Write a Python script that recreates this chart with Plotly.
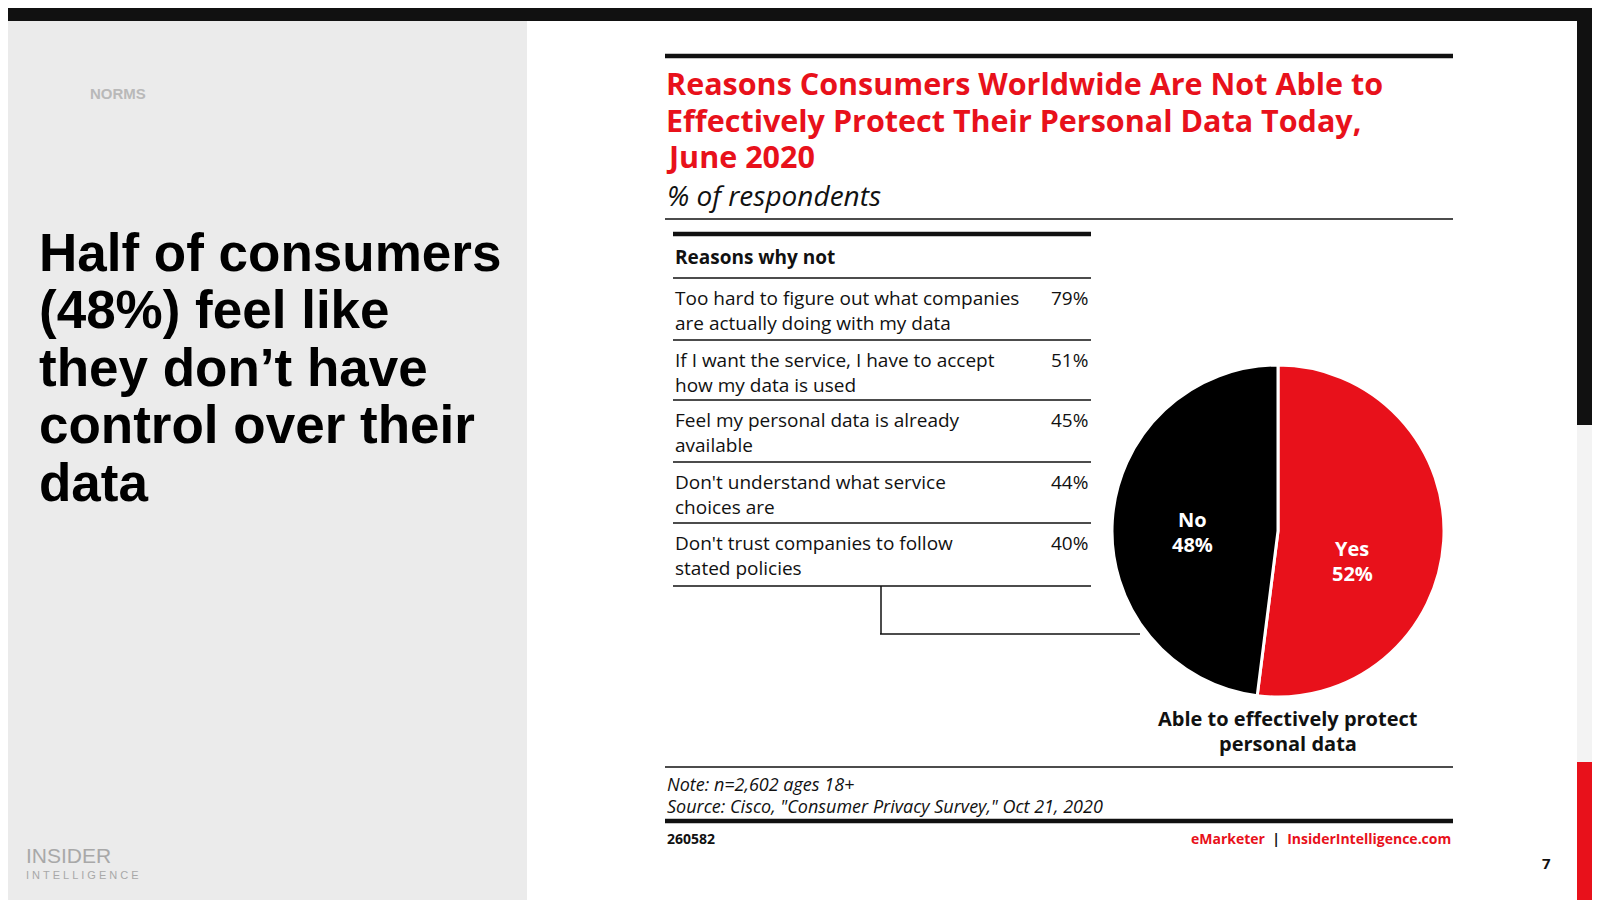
import plotly.graph_objects as go

O = 8  # page margin compensation
W, H = 1600 - O, 900 - O
pie_labels = ["Yes", "No"]
pie_values = [52, 48]
pie_colors = ["#e8111b", "#000000"]
reasons = [["Too hard to figure out what companies", "are actually doing with my data"],
           ["If I want the service, I have to accept", "how my data is used"],
           ["Feel my personal data is already", "available"],
           ["Don't understand what service", "choices are"],
           ["Don't trust companies to follow", "stated policies"]]
reason_vals = [79, 51, 45, 44, 40]

def X(px): return (px - O) / W
def Y(py): return 1 - (py - O) / H

F = "Open Sans"
shapes, ann = [], []
def rect(x0, y0, x1, y1, c):
    shapes.append(dict(type="rect", xref="paper", yref="paper", x0=X(x0), x1=X(x1), y0=Y(y1), y1=Y(y0),
                       fillcolor=c, line_width=0, layer="below"))
def line(x0, y0, x1, y1, w=1.5, c="#111"):
    shapes.append(dict(type="line", xref="paper", yref="paper", x0=X(x0), x1=X(x1), y0=Y(y0), y1=Y(y1),
                       line=dict(color=c, width=w)))
def text(x, y, t, size, color="#111", xa="left", fam=F, ital=False, bold=False):
    if ital: t = "<i>" + t + "</i>"
    if bold: t = "<b>" + t + "</b>"
    ann.append(dict(xref="paper", yref="paper", x=X(x), y=Y(y), text=t, showarrow=False, xanchor=xa, yanchor="middle",
                    font=dict(size=size, color=color, family=fam)))

rect(0, 0, 1600, 21, "#111111")
rect(0, 21, 527, 900, "#ebebeb")
rect(1577, 21, 1600, 425, "#111111")
rect(1577, 425, 1600, 762, "#f3f3f3")
rect(1577, 762, 1600, 900, "#e8111b")

text(88, 94, "NORMS", 15, "#b9b9b9", fam="Liberation Sans", bold=True)
for i, s in enumerate(["Half of consumers", "(48%) feel like", "they don’t have", "control over their", "data"]):
    text(37, 252 + 57.5 * i, s, 53, "#000", fam="Liberation Sans", bold=True)
text(24, 855, "INSIDER", 21, "#a8a8a8", fam="Liberation Sans")
text(24, 875, "<span style='letter-spacing:3px'>INTELLIGENCE</span>", 11, "#a8a8a8", fam="Liberation Sans")

line(665, 56, 1453, 56, 4.5)
for i, s in enumerate(["Reasons Consumers Worldwide Are Not Able to",
                       "Effectively Protect Their Personal Data Today,", "June 2020"]):
    text(664, 83 + 36.5 * i, s, 30.5, "#e8111b", bold=True)
text(665, 195, "% of respondents", 28, "#111", ital=True)
line(665, 219, 1453, 219, 1.5)

line(673, 234, 1091, 234, 4.5)
text(673, 257, "Reasons why not", 19, bold=True)
rows = [278, 340, 400, 462, 523, 586]
for yy in rows:
    line(673, yy, 1091, yy, 1.5)
for i, (r, v) in enumerate(zip(reasons, reason_vals)):
    y1 = rows[i] + 20
    text(673, y1, r[0], 19)
    text(673, y1 + 25, r[1], 19)
    text(1090, y1, f"{v}%", 19, xa="right")

line(881, 586, 881, 634, 1.5)
line(880, 634, 1140, 634, 1.5)

cx, cy, r = 1278, 531, 166
text(1288, 718, "Able to effectively protect", 20, xa="center", bold=True)
text(1288, 743, "personal data", 20, xa="center", bold=True)
text(1192, 519, "No", 20, "#fff", xa="center", bold=True)
text(1192, 544, "48%", 20, "#fff", xa="center", bold=True)
text(1352, 548, "Yes", 20, "#fff", xa="center", bold=True)
text(1352, 573, "52%", 20, "#fff", xa="center", bold=True)

line(665, 767, 1453, 767, 1.5)
text(665, 784, "Note: n=2,602 ages 18+", 18, ital=True)
text(665, 806, "Source: Cisco, \"Consumer Privacy Survey,\" Oct 21, 2020", 18, ital=True)
line(665, 821, 1453, 821, 4.5)
text(665, 838, "260582", 14, bold=True)
text(1453, 838, "<span style='color:#e8111b'>eMarketer</span>  |  <span style='color:#e8111b'>InsiderIntelligence.com</span>", 14, xa="right", bold=True)
text(1540, 863, "7", 15, bold=True)

fig = go.Figure(go.Pie(labels=pie_labels, values=pie_values, sort=False, direction="clockwise", rotation=0,
                       marker=dict(colors=pie_colors, line=dict(color="#fff", width=3)), textinfo="none",
                       hoverinfo="label+percent",
                       domain=dict(x=[X(cx - r), X(cx + r)], y=[Y(cy + r), Y(cy - r)])))
fig.update_layout(width=W, height=H, margin=dict(l=0, r=0, t=0, b=0), showlegend=False,
                  paper_bgcolor="#ffffff", plot_bgcolor="#ffffff", shapes=shapes, annotations=ann)
fig.write_html("out.html")
